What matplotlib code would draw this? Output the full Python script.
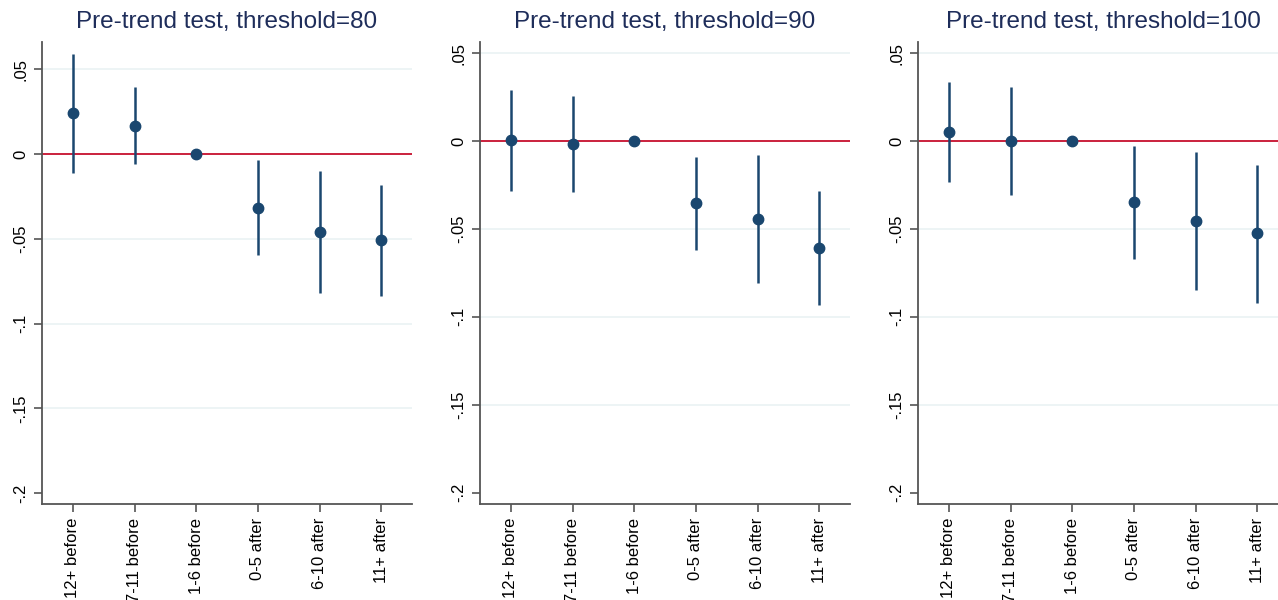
import numpy as np
import matplotlib
matplotlib.use("Agg")
import matplotlib.pyplot as plt

plt.rcParams['font.family'] = ['Liberation Sans', 'DejaVu Sans']

categories = ["12+ before", "7-11 before", "1-6 before", "0-5 after", "6-10 after", "11+ after"]
thresholds = [80, 90, 100]

# point estimates and 95% CI bounds per threshold (1-6 before is the reference)
coef_80 = [0.0243, 0.0169, 0.0, -0.0316, -0.0460, -0.0507]
low_80 = [-0.0111, -0.0057, np.nan, -0.0597, -0.0820, -0.0836]
high_80 = [0.0592, 0.0394, np.nan, -0.0034, -0.0101, -0.0180]

coef_90 = [0.0007, -0.0017, 0.0, -0.0353, -0.0442, -0.0608]
low_90 = [-0.0283, -0.0292, np.nan, -0.0617, -0.0808, -0.0932]
high_90 = [0.0292, 0.0255, np.nan, -0.0089, -0.0078, -0.0283]

coef_100 = [0.0050, 0.0, 0.0, -0.0349, -0.0453, -0.0525]
low_100 = [-0.0235, -0.0307, np.nan, -0.0671, -0.0845, -0.0919]
high_100 = [0.0338, 0.0309, np.nan, -0.0026, -0.0063, -0.0135]

yticks = [0.05, 0, -0.05, -0.1, -0.15, -0.2]
ytick_labels = [".05", "0", "-.05", "-.1", "-.15", "-.2"]

navy = "#1a476f"
title_col = "#1e2d5a"
red = "#c8102e"
grid_col = "#eaf2f3"
spine_col = "#555555"


def draw_panel(ax, coef, low, high, thr, ytop):
    x = np.arange(1, len(categories) + 1)
    for g in yticks[:-1]:
        ax.axhline(g, color=grid_col, lw=1.2, zorder=0)
    ax.axhline(0, color=red, lw=1.3, zorder=1)
    ax.vlines(x, low, high, color=navy, lw=1.8, zorder=2)
    ax.plot(x, coef, "o", color=navy, ms=7.5, zorder=3)

    ax.set_xlim(0.5, 6.5)
    ax.set_ylim(-0.2065, ytop)
    ax.set_xticks(x)
    ax.set_xticklabels(categories, rotation=90, fontsize=12)
    ax.set_yticks(yticks)
    ax.set_yticklabels(ytick_labels, rotation=90, va="center", fontsize=12)
    ax.tick_params(axis="both", length=5.5, width=1.2, color=spine_col, pad=4.5)
    for side in ["top", "right"]:
        ax.spines[side].set_visible(False)
    for side in ["left", "bottom"]:
        ax.spines[side].set_color(spine_col)
        ax.spines[side].set_linewidth(1.3)
    ax.set_title("Pre-trend test, threshold=%d" % thr, fontsize=17.5, color=title_col, pad=10)


fig = plt.figure(figsize=(12.78, 6.0), dpi=100)
W = 1278.0
H = 600.0
bottom = 1 - 504 / H
height = (504 - 42) / H
width = 370 / W

ax1 = fig.add_axes([42 / W, bottom, width, height])
ax2 = fig.add_axes([480 / W, bottom, width, height])
ax3 = fig.add_axes([918 / W, bottom, width, height])

draw_panel(ax1, coef_80, low_80, high_80, thresholds[0], 0.0662)
draw_panel(ax2, coef_90, low_90, high_90, thresholds[1], 0.0564)
draw_panel(ax3, coef_100, low_100, high_100, thresholds[2], 0.0564)

fig.savefig("out.png", dpi=100)
